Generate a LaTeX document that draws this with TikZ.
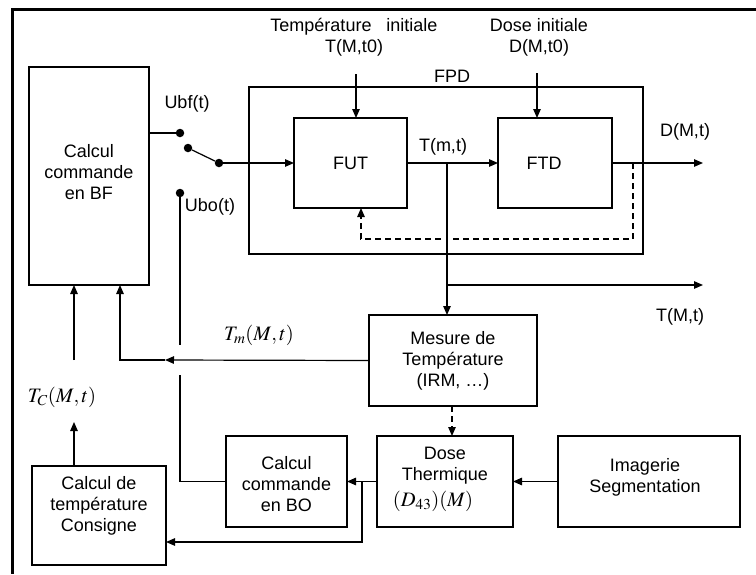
\documentclass[tikz,border=0pt]{standalone}
\usepackage{mathptmx}
\usepackage[no-math]{fontspec}
\setmainfont{Liberation Sans}
\usetikzlibrary{arrows.meta}
\tikzset{
  box/.style={draw, line width=1.2pt, inner sep=0pt, outer sep=0pt, align=center, font=\fontsize{18}{21}\selectfont},
  txt/.style={inner sep=0pt, align=center, font=\fontsize{18}{21}\selectfont},
  mtxt/.style={inner sep=0pt, align=center, font=\fontsize{20.5}{24}\selectfont},
  conn/.style={line width=1.2pt},
  arr/.style={line width=1.2pt, -{Triangle[length=9pt,width=7.5pt]}},
  dsh/.style={line width=1.2pt, dash pattern=on 6pt off 4pt},
  dot/.style={circle, fill, inner sep=0pt, minimum size=8.5pt},
}
\begin{document}
\begin{tikzpicture}[x=1pt,y=-1pt]
\useasboundingbox (0,0) rectangle (756,574);
\fill[white] (0,0) rectangle (756,574);
% frame
\draw[line width=3pt] (756,9) -- (12,9) -- (12,574);

% boxes
\node[box, minimum width=120pt, minimum height=218pt] (bf) at (89,176) {};
\node[txt] (bft) at (89,172) {Calcul\\commande\\en BF};
\node[box, minimum width=394pt, minimum height=167pt] (fpd) at (446,170.5) {};
\node[box, minimum width=113pt, minimum height=90pt] (fut) at (350.5,163) {FUT};
\node[box, minimum width=114pt, minimum height=90pt] (ftd) at (555,163) {};
\node[txt] (ftdt) at (544,163) {FTD};
\node[box, minimum width=168pt, minimum height=91pt] (mes) at (453,360.5) {};
\node[txt] (mest) at (453,361) {Mesure de\\Température\\(IRM, \ldots)};
\node[box, minimum width=136pt, minimum height=91pt] (dose) at (445,481.5) {};
\node[txt] (doset) at (445,466) {Dose\\Thermique};
\node[mtxt] (dosem) at (433,501) {$(D_{43})(M)$};
\node[box, minimum width=182pt, minimum height=91pt] (img) at (649,481.5) {};
\node[txt] (imgt) at (645,477) {Imagerie\\Segmentation};
\node[box, minimum width=121pt, minimum height=91pt] (bo) at (286.5,481.5) {};
\node[txt] (bot) at (286.5,484) {Calcul\\commande\\en BO};
\node[box, minimum width=134pt, minimum height=99pt] (cons) at (99,515.5) {};
\node[txt] (const) at (99,506) {Calcul de\\température\\Consigne};

% labels
\node[txt] (ti) at (354,37) {Température\ \ \ initiale\\T(M,t0)};
\node[txt] (di) at (539,37) {Dose initiale\\D(M,t0)};
\node[txt] (fpdl) at (452,76) {FPD};
\node[txt] (ubf) at (187,104) {Ubf(t)};
\node[txt] (ubo) at (210,207) {Ubo(t)};
\node[txt] (tmt) at (443,147) {T(m,t)};
\node[txt] (dmt) at (685,132) {D(M,t)};
\node[txt] (tMt) at (680,317) {T(M,t)};
\node[mtxt] (tml) at (259,335) {$T_m(M,t)$};
\node[mtxt] (tcl) at (62,397) {$T_C(M,t)$};

% switch
\node[dot] (d1) at (180,133) {};
\node[dot] (d2) at (188,148) {};
\node[dot] (d3) at (219,163) {};
\node[dot] (d4) at (180,193) {};
\draw[conn] (bf.east |- d1) -- (d1);
\draw[conn] (d2) -- (d3);
\draw[arr] (d3) -- (fut.west |- d3);

% inputs
\coordinate (tiA) at (356,74);
\draw[arr] (tiA) -- (tiA |- fut.north);
\coordinate (diA) at (537,73);
\draw[arr] (diA) -- (diA |- ftd.north);

% FUT -> FTD
\draw[arr] (fut.east) -- (ftd.west);
\coordinate (br) at (447,163);
\coordinate (br2) at (447,285);
\coordinate (tout) at (703,285);
\draw[arr] (br) -- (br |- mes.north);
\draw[arr] (br2) -- (tout);
\coordinate (dout) at (703,163);
\draw[arr] (ftd.east) -- (dout);

% dashed feedback
\coordinate (dfb) at (633,163);
\coordinate (dfb2) at (633,239);
\coordinate (gapR) at (453,239);
\coordinate (gapL) at (441,239);
\coordinate (dfb3) at (361,239);
\draw[dsh] (dfb) -- (dfb2) -- (gapR);
\draw[dsh, -{Triangle[length=9pt,width=7.5pt]}] (gapL) -- (dfb3) -- (dfb3 |- fut.south);

% Tm feedback
\coordinate (tmA) at (165,360);
\coordinate (tmB) at (120,360);
\draw[arr] (mes.west) -- (tmA);
\draw[arr] (tmA) -- (tmB) -- (tmB |- bf.south);

% Ubo path
\coordinate (u1) at (180,345);
\coordinate (u2) at (180,375);
\draw[conn] (d4) -- (u1);
\draw[conn] (u2) -- (u2 |- bo.west) -- (bo.west);

% Tc
\coordinate (tcA) at (74,422);
\coordinate (tcB) at (74,360);
\draw[arr] (cons.north -| tcA) -- (tcA);
\draw[arr] (tcB) -- (tcB |- bf.south);

% bottom
\draw[dsh, -{Triangle[length=9pt,width=7.5pt]}] (mes.south -| 452,0) -- (dose.north -| 452,0);
\draw[arr] (img.west) -- (dose.east);
\draw[arr] (dose.west) -- (bo.east);
\coordinate (c1) at (362,481.5);
\coordinate (c2) at (362,542);
\draw[arr] (c1) -- (c2) -- (c2 -| cons.east);
\end{tikzpicture}
\end{document}
